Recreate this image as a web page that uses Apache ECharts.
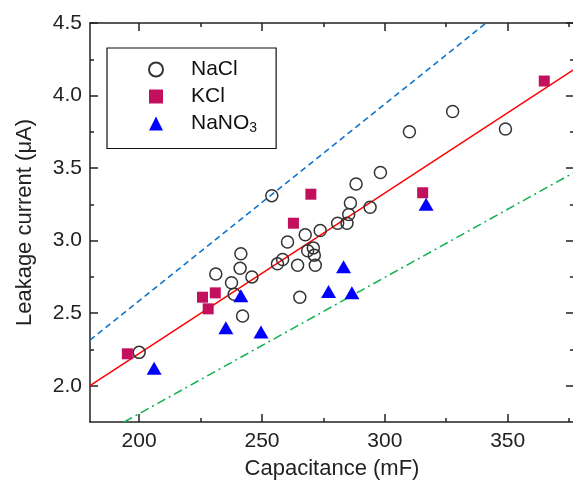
<!DOCTYPE html>
<html><head><meta charset="utf-8">
<script src="https://cdn.jsdelivr.net/npm/echarts@6/dist/echarts.min.js"></script>
<style>html,body{margin:0;padding:0;background:#fff}#c{width:573px;height:486px}</style>
</head><body><div id="c"></div>
<script>
// tick values
const xTicks = [200, 250, 300, 350];
const xMinorTicks = [225, 275, 325, 375];
const yTicks = [2.0, 2.5, 3.0, 3.5, 4.0, 4.5];
const yMinorTicks = [2.25, 2.75, 3.25, 3.75, 4.25];

// series data
const naclX = [200, 231.2, 237.6, 238.7, 241.4, 241.1, 242.1, 245.9, 254.0, 256.3, 258.4, 260.4, 264.5, 265.4, 267.6, 268.6, 270.9, 271.3, 271.7, 273.7, 280.8, 284.6, 285.3, 286.0, 288.3, 294.0, 298.2, 310.0, 327.6, 349.1];
const naclY = [2.23, 2.77, 2.71, 2.63, 2.91, 2.81, 2.48, 2.75, 3.31, 2.84, 2.87, 2.99, 2.83, 2.61, 3.04, 2.93, 2.95, 2.90, 2.83, 3.07, 3.12, 3.12, 3.18, 3.26, 3.39, 3.23, 3.47, 3.75, 3.89, 3.77];
const kclX = [195.2, 225.8, 228.1, 231.0, 262.8, 269.9, 315.4, 364.9];
const kclY = [2.22, 2.61, 2.53, 2.64, 3.12, 3.32, 3.33, 4.10];
const nano3X = [206.1, 235.3, 241.4, 249.6, 277.1, 283.2, 286.6, 316.8];
const nano3Y = [2.12, 2.40, 2.62, 2.37, 2.65, 2.82, 2.64, 3.25];

// fitted line and bounds (endpoints)
const fitX = [180, 377];
const fitY = [2.0, 4.18];
const upperX = [180, 341.2];
const upperY = [2.314, 4.5];
const lowerX = [193.9, 377];
const lowerY = [1.75, 3.47];

const FONT = '"Liberation Sans", Arial, Helvetica, sans-serif';
const AX = '#222';
const pairs = (xs, ys) => xs.map((x, i) => [x, ys[i]]);

function xAx(grid, pos, ticks, len, main) {
  return {
    type: 'value', gridIndex: grid, position: pos, min: 180, max: 377,
    axisLine: { show: main, onZero: false, lineStyle: { color: AX, width: 1.5 } },
    axisTick: { show: true, inside: true, length: len, customValues: ticks, lineStyle: { color: AX, width: 1.5 } },
    axisLabel: { show: main && pos === 'bottom', customValues: ticks, margin: 9, fontSize: 21, color: AX, fontFamily: FONT },
    splitLine: { show: false },
    name: (main && pos === 'bottom') ? 'Capacitance (mF)' : '',
    nameLocation: 'middle', nameGap: 36,
    nameTextStyle: { fontSize: 22, color: AX, fontFamily: FONT }
  };
}
function yAx(grid, pos, ticks, len, main) {
  return {
    type: 'value', gridIndex: grid, position: pos, min: 1.75, max: 4.5,
    axisLine: { show: main, onZero: false, lineStyle: { color: AX, width: 1.5 } },
    axisTick: { show: true, inside: true, length: len, customValues: ticks, lineStyle: { color: AX, width: 1.5 } },
    axisLabel: { show: main && pos === 'left', customValues: ticks, margin: 8, fontSize: 21, color: AX, fontFamily: FONT,
      formatter: v => v.toFixed(1) },
    splitLine: { show: false },
    name: (main && pos === 'left') ? 'Leakage current (\u03bcA)' : '',
    nameLocation: 'middle', nameGap: 54, nameRotate: 90,
    nameTextStyle: { fontSize: 22, color: AX, fontFamily: FONT }
  };
}

const gridBox = { left: 90, top: 23, width: 484, height: 399, containLabel: false, outerBoundsMode: 'none' };

const chart = echarts.init(document.getElementById('c'), null, { renderer: 'canvas' });
chart.setOption({
  animation: false,
  backgroundColor: '#fff',
  grid: [Object.assign({}, gridBox), Object.assign({}, gridBox)],
  xAxis: [
    xAx(0, 'bottom', xTicks, 8, true),
    xAx(0, 'top', xTicks, 8, true),
    xAx(1, 'bottom', xMinorTicks, 4, false),
    xAx(1, 'top', xMinorTicks, 4, false)
  ],
  yAxis: [
    yAx(0, 'left', yTicks, 8, true),
    yAx(0, 'right', yTicks, 8, true),
    yAx(1, 'left', yMinorTicks, 4, false),
    yAx(1, 'right', yMinorTicks, 4, false)
  ],
  legend: {
    data: ['NaCl', 'KCl', 'NaNO3'],
    orient: 'vertical', left: 107, top: 48,
    padding: [11, 19, 13, 41],
    borderColor: '#111', borderWidth: 1.2,
    itemWidth: 14, itemHeight: 14, itemGap: 6,
    formatter: n => n === 'NaNO3' ? '{a|NaNO}{s|3}' : '{a|' + n + '}',
    textStyle: {
      padding: [0, 0, 0, 23],
      rich: {
        a: { fontSize: 21, lineHeight: 24, color: '#111', fontFamily: FONT },
        s: { fontSize: 14, lineHeight: 14, verticalAlign: 'bottom', color: '#111', fontFamily: FONT }
      }
    }
  },
  series: [
    { type: 'line', name: 'fit', data: pairs(fitX, fitY), symbol: 'none', clip: true,
      lineStyle: { color: '#ff0000', width: 1.5 }, silent: true, z: 1 },
    { type: 'line', name: 'upper', data: pairs(upperX, upperY), symbol: 'none', clip: true,
      lineStyle: { color: '#0a72cc', width: 1.5, type: [6, 4] }, silent: true, z: 1 },
    { type: 'line', name: 'lower', data: pairs(lowerX, lowerY), symbol: 'none', clip: true,
      lineStyle: { color: '#10b050', width: 1.5, type: [9, 4, 2, 4] }, silent: true, z: 1 },
    { type: 'scatter', name: 'NaCl', data: pairs(naclX, naclY), symbol: 'circle', symbolSize: 12,
      itemStyle: { color: 'rgba(255,255,255,0)', borderColor: '#333', borderWidth: 1.5, opacity: 1 }, z: 3 },
    { type: 'scatter', name: 'KCl', data: pairs(kclX, kclY), symbol: 'rect', symbolSize: 11,
      itemStyle: { color: '#c2105c', opacity: 1 }, z: 3 },
    { type: 'scatter', name: 'NaNO3', data: pairs(nano3X, nano3Y), symbol: 'triangle', symbolSize: [15, 13],
      itemStyle: { color: '#0000ff', opacity: 1 }, z: 3 }
  ]
});
</script>
</body></html>
